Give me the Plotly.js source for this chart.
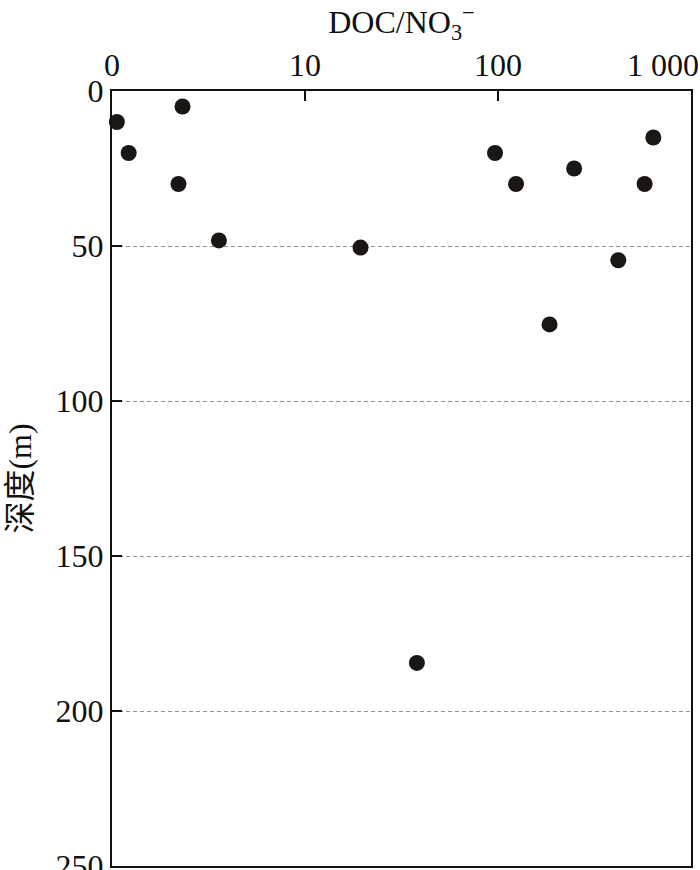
<!DOCTYPE html>
<html>
<head>
<meta charset="utf-8">
<script src="https://cdn.plot.ly/plotly-3.0.1.min.js"></script>
<style>html,body{margin:0;padding:0;background:#fff;}#chart{width:700px;height:870px;}</style>
</head>
<body>
<div id="chart"></div>
<script>
// DOC/NO3- ratio (log scale) and depth (m)
const ratio = [1.06, 2.32, 1.22, 2.21, 3.58, 19.4, 38, 96.5, 124, 248, 185, 420, 575, 638];
const depth = [10, 5, 20, 30, 48.2, 50.5, 184.5, 20, 30, 25, 75.3, 54.6, 30, 15];
const xTickVals = [1, 10, 100, 1000];
const xTickText = ['0', '10', '100', '1 000'];
const yTickVals = [0, 50, 100, 150, 200, 250];

const serif = 'Liberation Serif, "Times New Roman", "Noto Sans CJK SC", serif';
const NB = '\u00a0';

const trace = {
  x: ratio,
  y: depth,
  type: 'scatter',
  mode: 'markers',
  marker: {size: 16, color: '#1a1614'},
  showlegend: false,
  cliponaxis: false
};

// last x label sits inside the frame like the reference: pad with trailing spaces
const xTickTextShown = xTickText.map((t, i) => i === xTickText.length - 1 ? t + NB.repeat(7) : t);

const layout = {
  width: 700,
  height: 870,
  margin: {l: 112, r: 9, t: 91, b: 4},
  paper_bgcolor: '#fff',
  plot_bgcolor: '#fff',
  font: {family: serif, size: 32, color: '#111'},
  xaxis: {
    type: 'log',
    side: 'top',
    range: [0, 3],
    tickvals: xTickVals,
    ticktext: xTickTextShown,
    ticks: 'inside',
    ticklen: 10,
    tickwidth: 2,
    tickcolor: '#111',
    ticklabeloverflow: 'allow',
    automargin: false,
    showgrid: false,
    zeroline: false,
    showline: true,
    mirror: true,
    linecolor: '#111',
    linewidth: 2,
    tickfont: {family: serif, size: 32, color: '#111'},
    title: {text: 'DOC/NO<sub>3</sub><sup>−</sup>', font: {family: serif, size: 32, color: '#111'}, standoff: 16}
  },
  yaxis: {
    range: [250, 0],
    tickvals: yTickVals,
    ticks: 'inside',
    ticklen: 10,
    tickwidth: 2,
    tickcolor: '#111',
    ticklabeloverflow: 'allow',
    automargin: false,
    showgrid: true,
    gridcolor: '#a08f8f',
    griddash: '4px,3px',
    gridwidth: 1,
    zeroline: false,
    showline: true,
    mirror: true,
    linecolor: '#111',
    linewidth: 2,
    tickfont: {family: serif, size: 32, color: '#111'},
    title: {text: '深度(m)', font: {family: serif, size: 32, color: '#111'}, standoff: 14}
  }
};

Plotly.newPlot('chart', [trace], layout, {displayModeBar: false, staticPlot: true});
</script>
</body>
</html>
